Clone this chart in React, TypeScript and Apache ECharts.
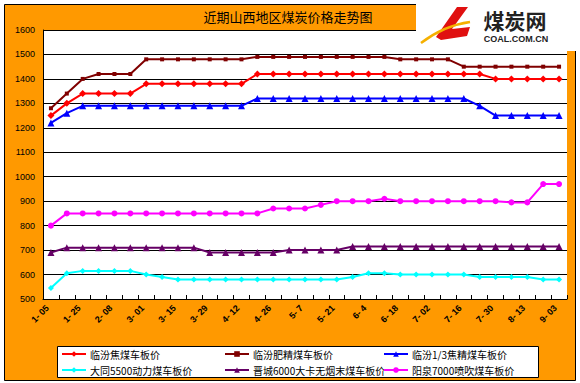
import React, { useEffect, useRef } from 'react';
import * as echarts from 'echarts';

const dates = ['1-05','1-15','1-25','2-01','2-08','2-22','3-01','3-08','3-15','3-22','3-29','4-05','4-12','4-19','4-26','4-30','5-7','5-14','5-21','5-28','6-4','6-11','6-18','6-25','7-02','7-09','7-16','7-23','7-30','8-06','8-13','8-24','9-03'];

const linfenJiao = [1250,1300,1340,1340,1340,1340,1380,1380,1380,1380,1380,1380,1380,1420,1420,1420,1420,1420,1420,1420,1420,1420,1420,1420,1420,1420,1420,1420,1400,1400,1400,1400,1400];
const linfenFei = [1280,1340,1400,1420,1420,1420,1480,1480,1480,1480,1480,1480,1480,1490,1490,1490,1490,1490,1490,1490,1490,1490,1480,1480,1480,1480,1450,1450,1450,1450,1450,1450,1450];
const linfen13 = [1220,1260,1290,1290,1290,1290,1290,1290,1290,1290,1290,1290,1290,1320,1320,1320,1320,1320,1320,1320,1320,1320,1320,1320,1320,1320,1320,1290,1250,1250,1250,1250,1250];
const datong = [545,605,615,615,615,615,600,590,580,580,580,580,580,580,580,580,580,580,580,590,605,605,600,600,600,600,600,590,590,590,590,580,580];
const jincheng = [690,710,710,710,710,710,710,710,710,710,690,690,690,690,690,700,700,700,700,715,715,715,715,715,715,715,715,715,715,715,715,715,715];
const yangquan = [800,850,850,850,850,850,850,850,850,850,850,850,850,850,870,870,870,885,900,900,900,910,900,900,900,900,900,900,900,895,895,970,970];

const seriesNames = ['临汾焦煤车板价','临汾肥精煤车板价','临汾1/3焦精煤车板价','大同5500动力煤车板价','晋城6000大卡无烟末煤车板价','阳泉7000喷吹煤车板价'];
const seriesData = [linfenJiao, linfenFei, linfen13, datong, jincheng, yangquan];
const seriesColors = ['#FF0000','#800000','#0000FF','#00FFFF','#660066','#FF00FF'];
const seriesSymbols = ['diamond','rect','triangle','diamond','triangle','circle'];
const seriesSymbolSizes = [7,4,7,6,7,6];

const titleText = '近期山西地区煤炭价格走势图';
const cjk = '"Noto Sans CJK SC", sans-serif';

export default function App() {
  const ref = useRef<HTMLDivElement>(null);
  useEffect(() => {
    if (!ref.current) return;
    const chart = echarts.init(ref.current, null, { renderer: 'svg' });
    const legendPos = [
      { left: 61, top: 349 },
      { left: 224, top: 349 },
      { left: 383, top: 349 },
      { left: 61, top: 365 },
      { left: 224, top: 365 },
      { left: 383, top: 365 },
    ];
    chart.setOption({
      animation: false,
      backgroundColor: '#ffffff',
      grid: { left: 43, right: 13, top: 30, bottom: 84, show: true, backgroundColor: '#ffffff', borderWidth: 0 },
      xAxis: {
        type: 'category',
        data: dates,
        boundaryGap: true,
        axisLine: { lineStyle: { color: '#000', width: 1 } },
        axisTick: { show: true, inside: true, length: 4, interval: 0, lineStyle: { color: '#000' } },
        axisLabel: {
          interval: 1,
          rotate: 45,
          fontSize: 9,
          fontWeight: 'bold',
          color: '#000',
          margin: 4,
          fontFamily: 'Liberation Sans, sans-serif',
          formatter: (v: string) => v.replace('-', '- ') + '  ',
        },
        splitLine: { show: false },
      },
      yAxis: {
        type: 'value',
        min: 500,
        max: 1600,
        interval: 100,
        axisLine: { show: true, lineStyle: { color: '#000', width: 1 } },
        axisTick: { show: false },
        axisLabel: { fontSize: 9, color: '#000', margin: 8, fontFamily: 'Liberation Sans, sans-serif', formatter: (v: number) => String(v) },
        splitLine: { show: true, lineStyle: { color: '#000', width: 1 } },
      },
      legend: seriesNames.map((n, i) => ({
        data: [n],
        left: legendPos[i].left,
        top: legendPos[i].top,
        itemWidth: 24,
        itemHeight: 7,
        itemGap: 4,
        padding: 0,
        textStyle: { fontSize: 10, color: '#000', fontFamily: cjk, padding: [0, 0, 0, -1] },
        selectedMode: false,
      })),
      series: seriesNames.map((n, i) => ({
        name: n,
        type: 'line',
        data: seriesData[i],
        symbol: seriesSymbols[i],
        symbolSize: seriesSymbolSizes[i],
        showAllSymbol: true,
        lineStyle: { color: seriesColors[i], width: 2 },
        itemStyle: { color: seriesColors[i] },
        z: 3,
      })),
      graphic: [
        { type: 'rect', z: -20, shape: { x: 4.5, y: 4.5, width: 571, height: 376 }, style: { fill: '#FF9900', stroke: '#000', lineWidth: 1 } },
        { type: 'rect', z: -19, shape: { x: 57.5, y: 346.5, width: 481, height: 31 }, style: { fill: '#ffffff', stroke: '#000', lineWidth: 1 } },
        { type: 'text', z: 5, x: 288, y: 16, style: { text: titleText, fontSize: 13, fill: '#000', align: 'center', verticalAlign: 'middle', fontFamily: cjk } },
        { type: 'rect', z: 20, shape: { x: 416, y: 0, width: 164, height: 51 }, style: { fill: '#ffffff' } },
        { type: 'polygon', z: 21, shape: { points: [[457, 7], [468, 7], [452, 29], [470, 27], [467, 36], [441, 40], [436, 37]] }, style: { fill: '#E01010' } },
        { type: 'bezierCurve', z: 22, shape: { x1: 421, y1: 43, x2: 470, y2: 22, cpx1: 438, cpy1: 30, cpx2: 455, cpy2: 24 }, style: { stroke: '#F5B000', lineWidth: 2.5, fill: 'none' } },
        { type: 'text', z: 21, x: 515, y: 20, style: { text: '煤炭网', fontSize: 21, fontWeight: 'bold', fill: '#222', align: 'center', verticalAlign: 'middle', fontFamily: cjk } },
        { type: 'text', z: 21, x: 516, y: 39, style: { text: 'COAL.COM.CN', fontSize: 9, fontWeight: 'bold', fill: '#222', align: 'center', verticalAlign: 'middle', fontFamily: 'Liberation Sans, sans-serif' } },
      ],
    });
    return () => chart.dispose();
  }, []);
  return <div ref={ref} style={{ position: 'fixed', left: 0, top: 0, width: 580, height: 383 }} />;
}
